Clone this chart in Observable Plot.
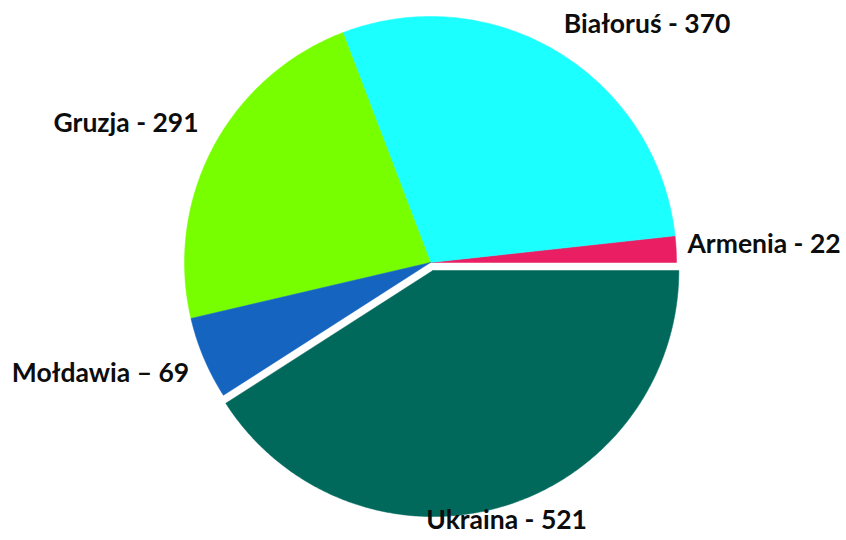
<!DOCTYPE html>
<html>
<head>
<meta charset="utf-8">
<script src="https://cdn.jsdelivr.net/npm/d3@7"></script>
<script src="https://cdn.jsdelivr.net/npm/@observablehq/plot@0.6"></script>
<style>
  html, body { margin: 0; padding: 0; background: #fff; }
  svg { display: block; }
</style>
</head>
<body>
<div id="chart"></div>
<script>
const countries = ["Armenia", "Białoruś", "Gruzja", "Mołdawia", "Ukraina"];
const values = [22, 370, 291, 69, 521];
const labels = ["Armenia - 22", "Białoruś - 370", "Gruzja - 291", "Mołdawia – 69", "Ukraina - 521"];
const colors = ["#E91E63", "#1CFFFF", "#77FF00", "#1565C0", "#00695C"];
const exploded = ["Ukraina"];

const total = d3.sum(values);
const explodeR = 0.034;
let acc = 0;
const slices = countries.map((c, i) => {
  const a0 = acc / total * 2 * Math.PI;
  acc += values[i];
  const a1 = acc / total * 2 * Math.PI;
  const mid = (a0 + a1) / 2;
  const off = exploded.includes(c) ? explodeR : 0;
  const cx = off * Math.cos(mid), cy = off * Math.sin(mid);
  const pts = [{x: cx, y: cy}];
  const n = Math.max(4, Math.ceil((a1 - a0) / 0.01));
  for (let k = 0; k <= n; k++) {
    const a = a0 + (a1 - a0) * k / n;
    pts.push({x: cx + Math.cos(a), y: cy + Math.sin(a)});
  }
  pts.push({x: cx, y: cy});
  return {name: c, label: labels[i], color: colors[i], mid, pts};
});

// label placement tweaks (radius factor, pixel nudges)
const labelR = [1.05, 1.1, 1.1, 1.1, 1.1];
const labelDx = [-1, -8, 7, 8, 0];
const labelDy = [-3.5, -7, -12, 6, -2];
const marks = [];
slices.forEach(s => {
  marks.push(Plot.line(s.pts, {x: "x", y: "y", fill: s.color, stroke: s.color, strokeWidth: 0.5, curve: "linear"}));
});
slices.forEach((s, i) => {
  const c = Math.cos(s.mid);
  const anchor = Math.abs(c) < 0.4 ? "middle" : (c > 0 ? "start" : "end");
  marks.push(Plot.text([s], {
    x: d => labelR[i] * Math.cos(d.mid),
    y: d => labelR[i] * Math.sin(d.mid),
    dx: labelDx[i],
    dy: labelDy[i],
    text: "label",
    textAnchor: anchor,
    fontSize: 26.5,
    fontWeight: "bold",
    fill: "#0d0d0d"
  }));
});

const chart = Plot.plot({
  width: 846,
  height: 540,
  margin: 0,
  x: {domain: [-1.748, 1.691], axis: null},
  y: {domain: [-1.130, 1.065], axis: null},
  style: {fontFamily: "Lato, 'Open Sans', sans-serif", background: "#fff"},
  marks
});
document.getElementById("chart").appendChild(chart);
</script>
</body>
</html>
